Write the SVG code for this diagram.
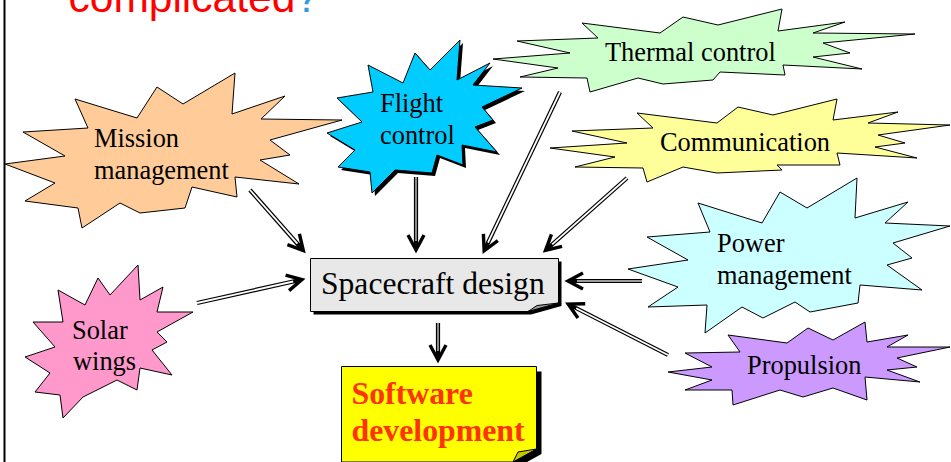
<svg xmlns="http://www.w3.org/2000/svg" width="951" height="462" viewBox="0 0 951 462">
  <style>
    .burst { stroke: #000; stroke-width: 1; stroke-linejoin: miter; }
    .label { font-family: "Liberation Serif", "Times New Roman", serif; font-size: 26.4px; fill: #000; }
    .shaft { fill: none; stroke: #000; stroke-width: 4.2; }
    .core { fill: none; stroke: #fff; stroke-width: 1.8; }
    .core.flat { stroke: #9a9a9a; }
    .box { stroke: #000; stroke-width: 1; }
  </style>
  <defs>
    <marker id="head" markerUnits="userSpaceOnUse" markerWidth="40" markerHeight="40" refX="0" refY="0" orient="auto" overflow="visible">
      <path d="M -13 -8 L 2 0 L -13 8" fill="none" stroke="#000" stroke-width="3.4" stroke-linejoin="miter"/>
    </marker>
  </defs>

  <rect width="951" height="462" fill="#fff"/>

  <!-- heading, clipped at the top edge -->
  <text x="68.5" y="12" font-family="'Liberation Sans', Arial, sans-serif" font-size="42.5" fill="#ff0000">complicated<tspan fill="#3399dd">?</tspan></text>

  <!-- left frame line -->
  <line x1="4.5" y1="0" x2="4.5" y2="462" stroke="#000" stroke-width="2"/>

  <g id="connectors">
    <g id="mission-to-design">
      <path class="shaft" d="M250 190 L302 249" marker-end="url(#head)"/>
      <path class="core" d="M250 190 L297.4 243.7"/>
    </g>
    <g id="flight-to-design">
      <path class="shaft" d="M416 177 L416 248" marker-end="url(#head)"/>
      <path class="core flat" d="M416 177 L416 241"/>
    </g>
    <g id="thermal-to-design">
      <path class="shaft" d="M560 92 L485 249" marker-end="url(#head)"/>
      <path class="core" d="M560 92 L488 242.7"/>
    </g>
    <g id="communication-to-design">
      <path class="shaft" d="M627 178 L547 249" marker-end="url(#head)"/>
      <path class="core" d="M627 178 L552.2 244.4"/>
    </g>
    <g id="solar-to-design">
      <path class="shaft" d="M197 303 L300 280" marker-end="url(#head)"/>
      <path class="core" d="M197 303 L293.2 281.5"/>
    </g>
    <g id="power-to-design">
      <path class="shaft" d="M642 281 L570 281" marker-end="url(#head)"/>
      <path class="core flat" d="M642 281 L577 281"/>
    </g>
    <g id="propulsion-to-design">
      <path class="shaft" d="M668 355 L570 305" marker-end="url(#head)"/>
      <path class="core" d="M668 355 L576.2 308.2"/>
    </g>
    <g id="design-to-software">
      <path class="shaft" d="M438 323 L438 358" marker-end="url(#head)"/>
      <path class="core flat" d="M438 323 L438 351"/>
    </g>
  </g>

  <g id="mission">
    <polygon class="burst" fill="#ffcc99" points="5,164 65,156 23,132 88,128 75,99 137,118 157,87 183,104 235,73 232,114 285,96 261,119 342,120 270,140 290,155 260,160 299,184 235,177 237,197 192,187 185,208 140,213 120,203 82,228 78,208 25,201 55,183"/>
    <text class="label" x="94" y="147">Mission</text>
    <text class="label" x="94" y="178.5">management</text>
  </g>

  <g id="flight">
    <polygon fill="#000" transform="translate(3,3)" points="337,98 373,92 368,65 403,83 415,53 430,70 460,40 457,80 490,63 473,85 522,88 482,107 493,120 475,127 497,152 462,145 463,165 437,155 432,173 395,170 372,193 370,172 338,167 355,150 327,133 362,122"/>
    <polygon class="burst" fill="#00ccff" points="337,98 373,92 368,65 403,83 415,53 430,70 460,40 457,80 490,63 473,85 522,88 482,107 493,120 475,127 497,152 462,145 463,165 437,155 432,173 395,170 372,193 370,172 338,167 355,150 327,133 362,122"/>
    <text class="label" x="380" y="112">Flight</text>
    <text class="label" x="380" y="143.5">control</text>
  </g>

  <g id="thermal">
    <polygon class="burst" fill="#ccffcc" points="493,59 570,53 517,41 598,38 582,23 660,33 683,17 718,25 782,9 778,31 845,22 813,33 915,34 823,43 850,53 813,57 862,69 783,65 785,75 720,72 713,80 663,84 638,78 590,92 587,78 520,77 558,68"/>
    <text class="label" x="605" y="61">Thermal control</text>
  </g>

  <g id="communication">
    <polygon class="burst" fill="#ffff99" points="550,148 627,143 572,131 653,128 637,113 717,123 738,107 773,115 837,99 833,120 898,112 868,123 950,125 878,135 905,143 875,147 917,158 837,153 840,165 777,165 782,170 717,173 683,167 647,182 643,168 575,167 615,157"/>
    <text class="label" x="660" y="151">Communication</text>
  </g>

  <g id="power">
    <polygon class="burst" fill="#ccffff" points="628,269 688,260 647,237 710,232 698,203 762,223 780,192 807,208 857,178 855,218 908,202 885,223 950,226 893,243 912,258 887,265 922,290 860,285 858,303 810,312 795,302 763,318 742,307 705,333 707,305 648,307 678,287"/>
    <text class="label" x="717" y="252">Power</text>
    <text class="label" x="717" y="283.5">management</text>
  </g>

  <g id="propulsion">
    <polygon class="burst" fill="#cc99ff" points="668,372 712,367 685,353 740,352 728,335 787,343 808,328 833,340 865,322 867,342 908,335 887,347 950,347 897,358 917,367 887,370 920,382 865,377 867,400 833,388 803,397 780,390 733,405 732,390 685,390 712,380"/>
    <text class="label" x="747" y="373.5">Propulsion</text>
  </g>

  <g id="solar">
    <polygon class="burst" fill="#ff99cc" points="25,357 55,347 33,322 63,322 58,290 85,305 98,278 110,295 138,265 140,300 163,287 157,312 193,312 157,332 167,342 152,350 172,375 140,368 137,390 117,380 83,397 63,418 60,395 35,392 50,373"/>
    <text class="label" x="72" y="338.5">Solar</text>
    <text class="label" x="73" y="369.5">wings</text>
  </g>

  <g id="spacecraft-design">
    <polygon fill="#000" transform="translate(3,3)" points="310.5,258.5 558.5,258.5 558.5,303 528,311.5 310.5,311.5"/>
    <polygon class="box" fill="#e8e8e8" points="310.5,258.5 558.5,258.5 558.5,303 528,311.5 310.5,311.5"/>
    <polygon class="box" fill="#9c9c9c" points="528,311.5 537,305.5 558.5,303"/>
    <text x="321" y="293.5" font-family="'Liberation Serif', 'Times New Roman', serif" font-size="31.6" fill="#000">Spacecraft design</text>
  </g>

  <g id="software-development">
    <polygon fill="#000" transform="translate(5,5)" points="341.5,366.5 536.5,366.5 536.5,449 513,462 341.5,462"/>
    <polygon class="box" fill="#ffff00" points="341.5,366.5 536.5,366.5 536.5,449 513,462 341.5,462"/>
    <polygon class="box" fill="#c8c800" points="513,462 518,452 536.5,449"/>
    <text x="351.5" y="403.5" font-family="'Liberation Serif', 'Times New Roman', serif" font-size="31.8" font-weight="bold" fill="#ff3300">Software</text>
    <text x="351.5" y="440.5" font-family="'Liberation Serif', 'Times New Roman', serif" font-size="31.8" font-weight="bold" fill="#ff3300">development</text>
  </g>
</svg>
